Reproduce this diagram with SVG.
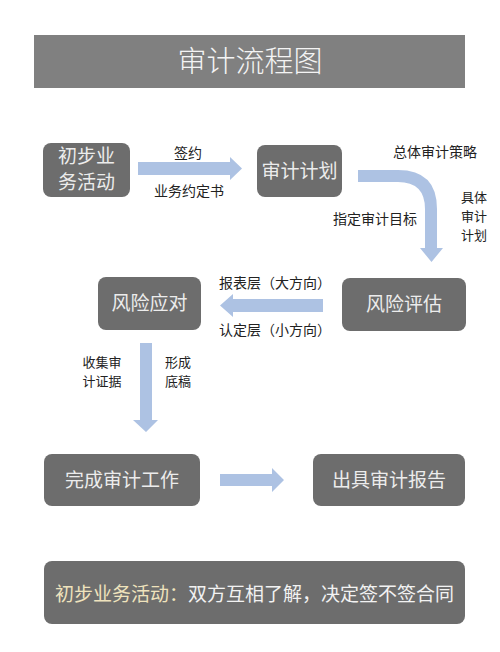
<svg xmlns="http://www.w3.org/2000/svg" width="500" height="652" viewBox="0 0 500 652">
<style>
text{font-family:"Noto Sans CJK SC","Noto Sans",sans-serif;}
.node{fill:#6d6d6d;}
.nt{fill:#ececec;font-size:19px;text-anchor:middle;}
.lb{fill:#222;font-size:14px;text-anchor:middle;}
.lb2{fill:#222;font-size:13px;text-anchor:middle;}
.arr{fill:#adc2e3;}
</style>
<rect width="500" height="652" fill="#ffffff"/>
<g id="title">
<rect x="34" y="35" width="431" height="53" fill="#808080"/>
<text x="250" y="72" font-size="29" fill="#f4f4f4" text-anchor="middle" font-weight="300">审计流程图</text>
</g>
<g id="node-chubu">
<rect class="node" x="43" y="143" width="87" height="54" rx="8"/>
<text class="nt" x="86.5" y="163" font-size="18">初步业</text>
<text class="nt" x="86.5" y="189" font-size="18">务活动</text>
</g>
<g id="node-jihua">
<rect class="node" x="257" y="145" width="85" height="52" rx="8"/>
<text class="nt" x="299.5" y="178">审计计划</text>
</g>
<g id="node-yingdui">
<rect class="node" x="98" y="277" width="103" height="53" rx="8"/>
<text class="nt" x="149.5" y="310">风险应对</text>
</g>
<g id="node-pinggu">
<rect class="node" x="342" y="278" width="124" height="53" rx="8"/>
<text class="nt" x="404" y="311">风险评估</text>
</g>
<g id="node-wancheng">
<rect class="node" x="44" y="454" width="156" height="52" rx="8"/>
<text class="nt" x="122" y="487">完成审计工作</text>
</g>
<g id="node-baogao">
<rect class="node" x="313" y="454" width="152" height="52" rx="8"/>
<text class="nt" x="389" y="487">出具审计报告</text>
</g>
<g id="note">
<rect class="node" x="44" y="561" width="421" height="63" rx="8"/>
<text x="254.5" y="601" font-size="19" text-anchor="middle"><tspan fill="#efe3bd">初步业务活动：</tspan><tspan fill="#f2f2f2">双方互相了解，决定签不签合同</tspan></text>
</g>
<g id="connectors">
<polygon class="arr" points="138,162 230,162 230,157 242,168.5 230,180 230,175 138,175"/>
<path class="arr" d="M358,170 L398,170 Q437,170 437,209 L437,248 L443,248 L431.5,262 L420,248 L425,248 L425,209 Q425,182 398,182 L358,182 Z"/>
<polygon class="arr" points="323,299 233,299 233,294 220,305.5 233,317 233,312 323,312"/>
<polygon class="arr" points="140,343 152,343 152,420 158,420 146,432 133,420 140,420"/>
<polygon class="arr" points="220,474 272,474 272,468 284,480 272,492 272,486 220,486"/>
</g>
<g id="labels">
<text class="lb" x="188" y="158">签约</text>
<text class="lb" x="189" y="196">业务约定书</text>
<text class="lb" x="435" y="157">总体审计策略</text>
<text class="lb2" x="474" y="202">具体</text>
<text class="lb2" x="474" y="221">审计</text>
<text class="lb2" x="474" y="240">计划</text>
<text class="lb" x="375" y="224">指定审计目标</text>
<text class="lb" x="275" y="288">报表层（大方向）</text>
<text class="lb" x="275" y="335">认定层（小方向）</text>
<text class="lb2" x="102" y="367">收集审</text>
<text class="lb2" x="102" y="386">计证据</text>
<text class="lb2" x="178" y="367">形成</text>
<text class="lb2" x="178" y="386">底稿</text>
</g>
</svg>
